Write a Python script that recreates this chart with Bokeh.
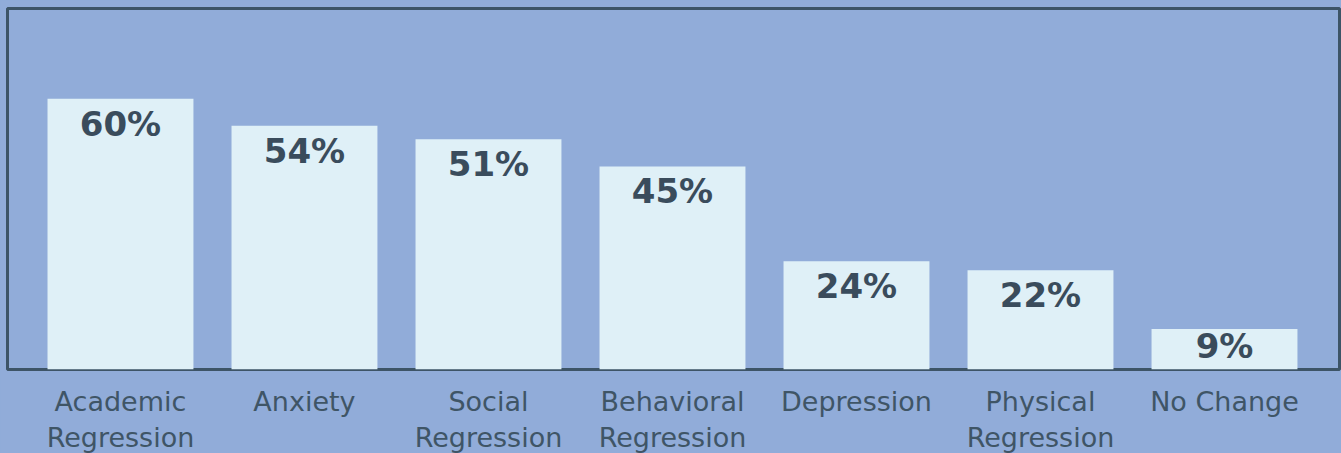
from bokeh.plotting import figure
from bokeh.models import ColumnDataSource, Range1d, FixedTicker, GlobalInlineStyleSheet
from bokeh.core.properties import value
from bokeh.embed import file_html
from bokeh.resources import INLINE

categories = ["Academic\nRegression", "Anxiety", "Social\nRegression", "Behavioral\nRegression",
              "Depression", "Physical\nRegression", "No Change"]
percent = [60, 54, 51, 45, 24, 22, 9]
labels = [f"{v}%" for v in percent]
xs = list(range(len(categories)))

BG = "#91acd9"
BAR = "#dff0f7"
DARK = "#3a4c5c"

# label sits a little below each bar's top, kept inside the shortest bar
label_y = [max(v - 5.5, 5.3) for v in percent]

src = ColumnDataSource(dict(x=xs, top=percent, label=labels, ly=label_y))

p = figure(frame_width=1332, frame_height=361, output_backend="svg", toolbar_location=None,
           x_range=Range1d(-0.614, 6.625), y_range=Range1d(0, 80),
           min_border_left=7, min_border_right=2, min_border_top=8, min_border_bottom=76,
           background_fill_color=BG, border_fill_color=BG)
p.stylesheets = [GlobalInlineStyleSheet(css="html,body{margin:0;padding:0;background:%s;overflow:hidden}" % BG)]

p.vbar(x="x", top="top", width=0.793, bottom=0, source=src, fill_color=BAR, line_color=None)
p.text(x="x", y="ly", text="label", source=src, text_align="center", text_baseline="middle",
       text_font=value("DejaVu Sans"), text_font_style="bold",
       text_font_size="34px", text_color=DARK)

p.outline_line_color="#3d5467"
p.outline_line_width=3
p.xgrid.visible=False
p.ygrid.visible=False
p.yaxis.visible=False

ax = p.xaxis[0]
ax.ticker = FixedTicker(ticks=xs)
ax.major_label_overrides = {i: c for i, c in zip(xs, categories)}
ax.axis_line_color=None
ax.major_tick_line_color=None
ax.minor_tick_line_color=None
ax.major_tick_out=0
ax.major_tick_in=0
ax.major_label_standoff=16
ax.major_label_text_font="DejaVu Sans"
ax.major_label_text_font_size="27px"
ax.major_label_text_color="#3f5566"
ax.major_label_text_line_height=1.18
ax.major_label_text_align="center"

open("out.html", "w").write(file_html(p, INLINE))
